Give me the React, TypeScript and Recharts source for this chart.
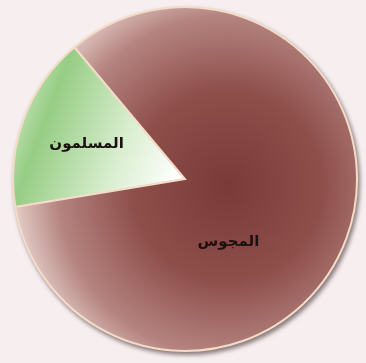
import { PieChart, Pie, Cell } from "recharts";

const groups = ["المسلمون", "المجوس"];
const shares = [16.5, 83.5];

const fills = ["url(#greenShade)", "url(#brownShade)"];

const data = groups.map((name, i) => ({ name, value: shares[i] }));

const RAD = Math.PI / 180;

interface LabelProps {
  cx: number;
  cy: number;
  midAngle: number;
  outerRadius: number;
  index: number;
  name: string;
}

// the brown label sits low and right of centre, not on its mid angle
function SliceLabel({ cx, cy, midAngle, outerRadius, index, name }: LabelProps) {
  const angle = index === 0 ? midAngle : -55;
  const r = index === 0 ? outerRadius * 0.61 : outerRadius * 0.44;
  const x = cx + r * Math.cos(angle * RAD);
  const y = cy - r * Math.sin(angle * RAD);
  return (
    <text
      x={x}
      y={y}
      textAnchor="middle"
      dominantBaseline="central"
      fill="#1c1010"
      fontFamily="DejaVu Sans"
      fontWeight="bold"
      fontSize={15}
    >
      {name}
    </text>
  );
}

export default function App() {
  return (
    <div
      style={{
        position: "absolute",
        left: 0,
        top: 0,
        width: 366,
        height: 363,
        background: "#f6eeef",
      }}
    >
      <div style={{ filter: "drop-shadow(2px 3px 2px rgba(50,25,25,0.55))" }}>
        <PieChart width={366} height={363} margin={{ top: 0, right: 0, bottom: 0, left: 0 }}>
          <defs>
            <radialGradient id="brownShade" cx="0.62" cy="0.52" r="0.62">
              <stop offset="0%" stopColor="#7a3a38" />
              <stop offset="45%" stopColor="#8e4f4b" />
              <stop offset="80%" stopColor="#b58480" />
              <stop offset="100%" stopColor="#e2c9c4" />
            </radialGradient>
            <linearGradient id="greenShade" x1="1" y1="0.7" x2="0" y2="0.35">
              <stop offset="0%" stopColor="#ffffff" />
              <stop offset="35%" stopColor="#d9eecf" />
              <stop offset="80%" stopColor="#96cd84" />
              <stop offset="100%" stopColor="#c8e6bd" />
            </linearGradient>
          </defs>
          <Pie
            data={data}
            dataKey="value"
            nameKey="name"
            cx={185}
            cy={179}
            outerRadius={172}
            startAngle={130}
            endAngle={490}
            stroke="#f3dcc8"
            strokeWidth={2}
            label={SliceLabel}
            labelLine={false}
            isAnimationActive={false}
          >
            {data.map((d, i) => (
              <Cell key={d.name} fill={fills[i]} />
            ))}
          </Pie>
        </PieChart>
      </div>
    </div>
  );
}
